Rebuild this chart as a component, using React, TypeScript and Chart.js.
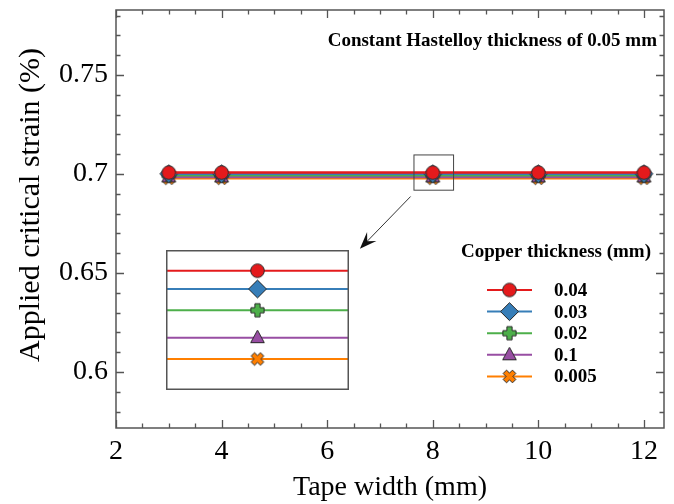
import React, { useEffect, useRef } from 'react';
import { Chart, registerables } from 'chart.js';

Chart.register(...registerables);

// ---------- data ----------
const tapeWidths = [3, 4, 8, 10, 12];
const copperLabels = ['0.04', '0.03', '0.02', '0.1', '0.005'];
const strainCu004 = [0.7007, 0.7007, 0.7007, 0.7007, 0.7007];
const strainCu003 = [0.7001, 0.7001, 0.7001, 0.7001, 0.7001];
const strainCu002 = [0.6994, 0.6994, 0.6994, 0.6994, 0.6994];
const strainCu01 = [0.6985, 0.6985, 0.6985, 0.6985, 0.6985];
const strainCu0005 = [0.6978, 0.6978, 0.6978, 0.6978, 0.6978];
const xTickValues = [2, 4, 6, 8, 10, 12];
const yTickValues = [0.6, 0.65, 0.7, 0.75];
const xRange = [2, 12.38];
const yRange = [0.5717, 0.7828];
const insetXRange = [7.5, 8.5];
const insetYRange = [0.69678, 0.70138];
const zoomBoxX = [7.644, 8.394];
const zoomBoxY = [0.6918, 0.7096];
const arrowFrom = [7.58, 0.6886];
const arrowTo = [6.62, 0.6622];
const annotationText = 'Constant Hastelloy thickness of 0.05 mm';
const legendTitle = 'Copper thickness (mm)';
const xTitle = 'Tape width (mm)';
const yTitle = 'Applied critical strain (%)';

const seriesValues = [strainCu004, strainCu003, strainCu002, strainCu01, strainCu0005];
const seriesColors = ['#e41a1c', '#377eb8', '#4daf4a', '#984ea3', '#ff7f00'];
const seriesMarkers = ['circle', 'diamond', 'plus', 'triangle', 'x'];

const SERIF = "'Liberation Serif', 'Times New Roman', serif";
const EDGE = '#2a2a2a';

function makeMarker(kind: string, color: string): HTMLCanvasElement {
  const S = kind === 'diamond' ? 21 : 17;
  const c = document.createElement('canvas');
  c.width = S;
  c.height = S;
  const g = c.getContext('2d')!;
  const m = S / 2;
  g.fillStyle = color;
  g.strokeStyle = EDGE;
  g.lineWidth = 1;
  g.lineJoin = 'miter';
  g.beginPath();
  if (kind === 'circle') {
    g.arc(m, m, 6.8, 0, Math.PI * 2);
  } else if (kind === 'diamond') {
    g.moveTo(m, m - 9);
    g.lineTo(m + 9, m);
    g.lineTo(m, m + 9);
    g.lineTo(m - 9, m);
    g.closePath();
  } else if (kind === 'triangle') {
    g.moveTo(m, m - 7.5);
    g.lineTo(m + 6.8, m + 5);
    g.lineTo(m - 6.8, m + 5);
    g.closePath();
  } else {
    const a = 6.6;
    const t = kind === 'x' ? 2.4 : 2.6;
    const pts = [
      [-t, -a], [t, -a], [t, -t], [a, -t], [a, t], [t, t],
      [t, a], [-t, a], [-t, t], [-a, t], [-a, -t], [-t, -t],
    ];
    const rot = kind === 'x' ? Math.PI / 4 : 0;
    const cs = Math.cos(rot), sn = Math.sin(rot);
    pts.forEach(([px, py], i) => {
      const X = m + px * cs - py * sn;
      const Y = m + px * sn + py * cs;
      if (i === 0) g.moveTo(X, Y); else g.lineTo(X, Y);
    });
    g.closePath();
  }
  g.fill();
  g.stroke();
  return c;
}

function buildDatasets(markers: HTMLCanvasElement[], lineWidth: number) {
  return seriesValues.map((vals, i) => ({
    label: copperLabels[i],
    data: tapeWidths.map((x, j) => ({ x, y: vals[j] })),
    borderColor: seriesColors[i],
    backgroundColor: seriesColors[i],
    borderWidth: lineWidth,
    pointStyle: markers[i] as any,
    pointRadius: 7,
    pointHoverRadius: 7,
    tension: 0,
  }));
}

const frameTicksPlugin = {
  id: 'frameTicks',
  afterDraw(chart: any) {
    const { ctx, chartArea, scales } = chart;
    const { left, right, top, bottom } = chartArea;
    const x = scales.x;
    const y = scales.y;
    ctx.save();
    ctx.strokeStyle = '#555555';
    ctx.lineWidth = 1.5;
    ctx.strokeRect(left, top, right - left, bottom - top);
    ctx.lineWidth = 1.3;
    ctx.beginPath();
    const xStep = (xTickValues[1] - xTickValues[0]) / 4;
    for (let k = 0; ; k++) {
      const v = xRange[0] + k * xStep;
      if (v > xRange[1] + 1e-9) break;
      const major = xTickValues.some((t) => Math.abs(t - v) < 1e-6);
      const len = major ? 8 : 4.5;
      const px = Math.round(x.getPixelForValue(v)) + 0.5;
      ctx.moveTo(px, bottom);
      ctx.lineTo(px, bottom - len);
      ctx.moveTo(px, top);
      ctx.lineTo(px, top + len);
    }
    const yStep = (yTickValues[1] - yTickValues[0]) / 5;
    const yStart = Math.ceil((yRange[0] - 1e-9) / yStep) * yStep;
    for (let k = 0; ; k++) {
      const v = yStart + k * yStep;
      if (v > yRange[1] + 1e-9) break;
      const major = yTickValues.some((t) => Math.abs(t - v) < 1e-6);
      const len = major ? 8 : 4.5;
      const py = Math.round(y.getPixelForValue(v)) + 0.5;
      ctx.moveTo(left, py);
      ctx.lineTo(left + len, py);
      ctx.moveTo(right, py);
      ctx.lineTo(right - len, py);
    }
    ctx.stroke();

    // y-axis title
    ctx.fillStyle = '#000';
    ctx.font = `30px ${SERIF}`;
    ctx.textAlign = 'center';
    ctx.textBaseline = 'middle';
    ctx.translate(31, 205);
    ctx.rotate(-Math.PI / 2);
    ctx.fillText(yTitle, 0, 0);
    ctx.restore();
  },
};

function makeAnnotationPlugin(markers: HTMLCanvasElement[]) {
  return {
    id: 'annotations',
    afterDatasetsDraw(chart: any) {
      const { ctx, scales } = chart;
      const x = scales.x;
      const y = scales.y;
      ctx.save();
      // zoom box
      const bx0 = x.getPixelForValue(zoomBoxX[0]);
      const bx1 = x.getPixelForValue(zoomBoxX[1]);
      const by0 = y.getPixelForValue(zoomBoxY[1]);
      const by1 = y.getPixelForValue(zoomBoxY[0]);
      ctx.strokeStyle = '#444';
      ctx.lineWidth = 1;
      ctx.strokeRect(bx0, by0, bx1 - bx0, by1 - by0);
      // arrow
      const ax0 = x.getPixelForValue(arrowFrom[0]);
      const ay0 = y.getPixelForValue(arrowFrom[1]);
      const ax1 = x.getPixelForValue(arrowTo[0]);
      const ay1 = y.getPixelForValue(arrowTo[1]);
      const ang = Math.atan2(ay1 - ay0, ax1 - ax0);
      const headLen = 17;
      const headW = 6.5;
      ctx.strokeStyle = '#333';
      ctx.lineWidth = 1;
      ctx.beginPath();
      ctx.moveTo(ax0, ay0);
      ctx.lineTo(ax1 - Math.cos(ang) * 8, ay1 - Math.sin(ang) * 8);
      ctx.stroke();
      const bxp = ax1 - Math.cos(ang) * headLen;
      const byp = ay1 - Math.sin(ang) * headLen;
      const nx = -Math.sin(ang), ny = Math.cos(ang);
      const notchX = ax1 - Math.cos(ang) * headLen * 0.62;
      const notchY = ay1 - Math.sin(ang) * headLen * 0.62;
      ctx.fillStyle = '#111';
      ctx.beginPath();
      ctx.moveTo(ax1, ay1);
      ctx.lineTo(bxp + nx * headW, byp + ny * headW);
      ctx.lineTo(notchX, notchY);
      ctx.lineTo(bxp - nx * headW, byp - ny * headW);
      ctx.closePath();
      ctx.fill();

      // annotation text
      ctx.fillStyle = '#000';
      ctx.font = `bold 19px ${SERIF}`;
      ctx.textAlign = 'right';
      ctx.textBaseline = 'middle';
      ctx.fillText(annotationText, 657, 41);

      // legend
      ctx.font = `bold 19px ${SERIF}`;
      ctx.textAlign = 'center';
      ctx.fillText(legendTitle, 556, 252);
      ctx.textAlign = 'left';
      copperLabels.forEach((lab, i) => {
        const ly = 290 + i * 21.6;
        ctx.strokeStyle = seriesColors[i];
        ctx.lineWidth = 2;
        ctx.beginPath();
        ctx.moveTo(487, ly);
        ctx.lineTo(532, ly);
        ctx.stroke();
        const mk = markers[i];
        ctx.drawImage(mk, 509.5 - mk.width / 2, ly - mk.height / 2);
        ctx.fillStyle = '#000';
        ctx.fillText(lab, 554, ly + 1);
      });
      ctx.restore();
    },
  };
}

const insetFramePlugin = {
  id: 'insetFrame',
  beforeDraw(chart: any) {
    const { ctx, width, height } = chart;
    ctx.save();
    ctx.fillStyle = '#ffffff';
    ctx.fillRect(0, 0, width, height);
    ctx.restore();
  },
  afterDraw(chart: any) {
    const { ctx, width, height } = chart;
    ctx.save();
    ctx.strokeStyle = '#555555';
    ctx.lineWidth = 1.5;
    ctx.strokeRect(0.75, 0.75, width - 1.5, height - 1.5);
    ctx.restore();
  },
};

export default function App() {
  const mainRef = useRef<HTMLCanvasElement | null>(null);
  const insetRef = useRef<HTMLCanvasElement | null>(null);

  useEffect(() => {
    document.body.style.margin = '0';
    const markers = seriesMarkers.map((k, i) => makeMarker(k, seriesColors[i]));
    const main = new Chart(mainRef.current!, {
      type: 'line',
      data: { datasets: buildDatasets(markers, 2.5) as any },
      plugins: [frameTicksPlugin, makeAnnotationPlugin(markers)],
      options: {
        animation: false,
        responsive: false,
        devicePixelRatio: 1,
        layout: { autoPadding: false, padding: { top: 10, right: 10, left: 0, bottom: 0 } },
        plugins: { legend: { display: false }, tooltip: { enabled: false } },
        scales: {
          x: {
            type: 'linear',
            min: xRange[0],
            max: xRange[1],
            grid: { display: false, drawTicks: false },
            border: { display: false },
            afterBuildTicks: (s: any) => {
              s.ticks = xTickValues.map((v) => ({ value: v }));
            },
            afterFit: (s: any) => {
              s.height = 76;
              s.paddingLeft = 0;
              s.paddingRight = 0;
            },
            ticks: {
              padding: 7,
              color: '#000',
              font: { family: SERIF, size: 28 },
              maxRotation: 0,
              autoSkip: false,
              callback: (v: any) => String(v),
            },
            title: {
              display: true,
              text: xTitle,
              color: '#000',
              font: { family: SERIF, size: 28 },
              padding: { top: 0, bottom: 0 },
            },
          },
          y: {
            type: 'linear',
            min: yRange[0],
            max: yRange[1],
            grid: { display: false, drawTicks: false },
            border: { display: false },
            afterBuildTicks: (s: any) => {
              s.ticks = yTickValues.map((v) => ({ value: v }));
            },
            afterFit: (s: any) => {
              s.width = 116;
              s.paddingTop = 0;
              s.paddingBottom = 0;
            },
            ticks: {
              padding: 8,
              color: '#000',
              font: { family: SERIF, size: 28 },
              autoSkip: false,
              callback: (v: any) => String(v),
            },
          },
        },
      },
    });

    const inset = new Chart(insetRef.current!, {
      type: 'line',
      data: { datasets: buildDatasets(markers, 2) as any },
      plugins: [insetFramePlugin],
      options: {
        animation: false,
        responsive: false,
        devicePixelRatio: 1,
        layout: { autoPadding: false, padding: 0 },
        plugins: { legend: { display: false }, tooltip: { enabled: false } },
        scales: {
          x: { type: 'linear', display: false, min: insetXRange[0], max: insetXRange[1] },
          y: { type: 'linear', display: false, min: insetYRange[0], max: insetYRange[1] },
        },
      },
    });

    return () => {
      main.destroy();
      inset.destroy();
    };
  }, []);

  return (
    <div style={{ position: 'relative', width: 674, height: 504, background: '#fff' }}>
      <canvas ref={mainRef} width={674} height={504} style={{ position: 'absolute', left: 0, top: 0 }} />
      <canvas
        ref={insetRef}
        width={183}
        height={140}
        style={{ position: 'absolute', left: 166, top: 250 }}
      />
    </div>
  );
}
